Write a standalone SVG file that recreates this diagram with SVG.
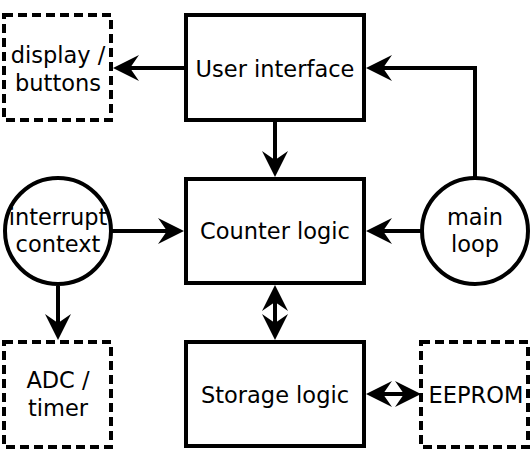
<svg xmlns="http://www.w3.org/2000/svg" width="531" height="461" viewBox="0 0 531 461">
<style>
.box{fill:#fff;stroke:#000;stroke-width:4}
.dash{fill:#fff;stroke:#000;stroke-width:4;stroke-dasharray:9 5}
.lbl{font-family:"DejaVu Sans",sans-serif;font-size:22.5px;fill:#000;text-anchor:middle}
.conn{fill:none;stroke:#000;stroke-width:4}
.end{marker-end:url(#ah)}
.both{marker-start:url(#ah);marker-end:url(#ah)}
</style>
<defs>
<marker id="ah" markerUnits="userSpaceOnUse" markerWidth="30" markerHeight="30" refX="22" refY="13" orient="auto-start-reverse" overflow="visible">
<path d="M0,0 L26,13 L0,26 L9,13 Z" fill="#000"/>
</marker>
</defs>
<rect width="531" height="461" fill="#fff"/>
<g id="connectors">
<path class="conn end" d="M184,68 L117,68"/>
<path class="conn end" d="M275,122 L275,173"/>
<path class="conn end" d="M475,177 L475,68 L370,68"/>
<path class="conn end" d="M421,231 L370,231"/>
<path class="conn end" d="M112,231 L180,231"/>
<path class="conn end" d="M58,286 L58,336"/>
<path class="conn both" d="M275,289 L275,336"/>
<path class="conn both" d="M370,394 L417,394"/>
</g>
<g id="user-interface">
<rect class="box" x="186" y="15" width="178" height="105"/>
<text class="lbl" x="275" y="77">User interface</text>
</g>
<g id="counter-logic">
<rect class="box" x="186" y="179" width="178" height="104"/>
<text class="lbl" x="275" y="239">Counter logic</text>
</g>
<g id="storage-logic">
<rect class="box" x="186" y="342" width="178" height="104"/>
<text class="lbl" x="275" y="403">Storage logic</text>
</g>
<g id="display-buttons">
<rect class="dash" x="4" y="15" width="107" height="105"/>
<text class="lbl" x="58" y="63">display /</text>
<text class="lbl" x="58" y="91">buttons</text>
</g>
<g id="adc-timer">
<rect class="dash" x="4" y="342" width="107" height="105"/>
<text class="lbl" x="58" y="388">ADC /</text>
<text class="lbl" x="58" y="416">timer</text>
</g>
<g id="eeprom">
<rect class="dash" x="421" y="342" width="107" height="105"/>
<text class="lbl" x="476" y="403">EEPROM</text>
</g>
<g id="interrupt-context">
<circle class="box" cx="58" cy="231" r="53"/>
<text class="lbl" x="58" y="225">interrupt</text>
<text class="lbl" x="58" y="252">context</text>
</g>
<g id="main-loop">
<circle class="box" cx="475" cy="231" r="53"/>
<text class="lbl" x="475" y="225">main</text>
<text class="lbl" x="475" y="252">loop</text>
</g>
</svg>
